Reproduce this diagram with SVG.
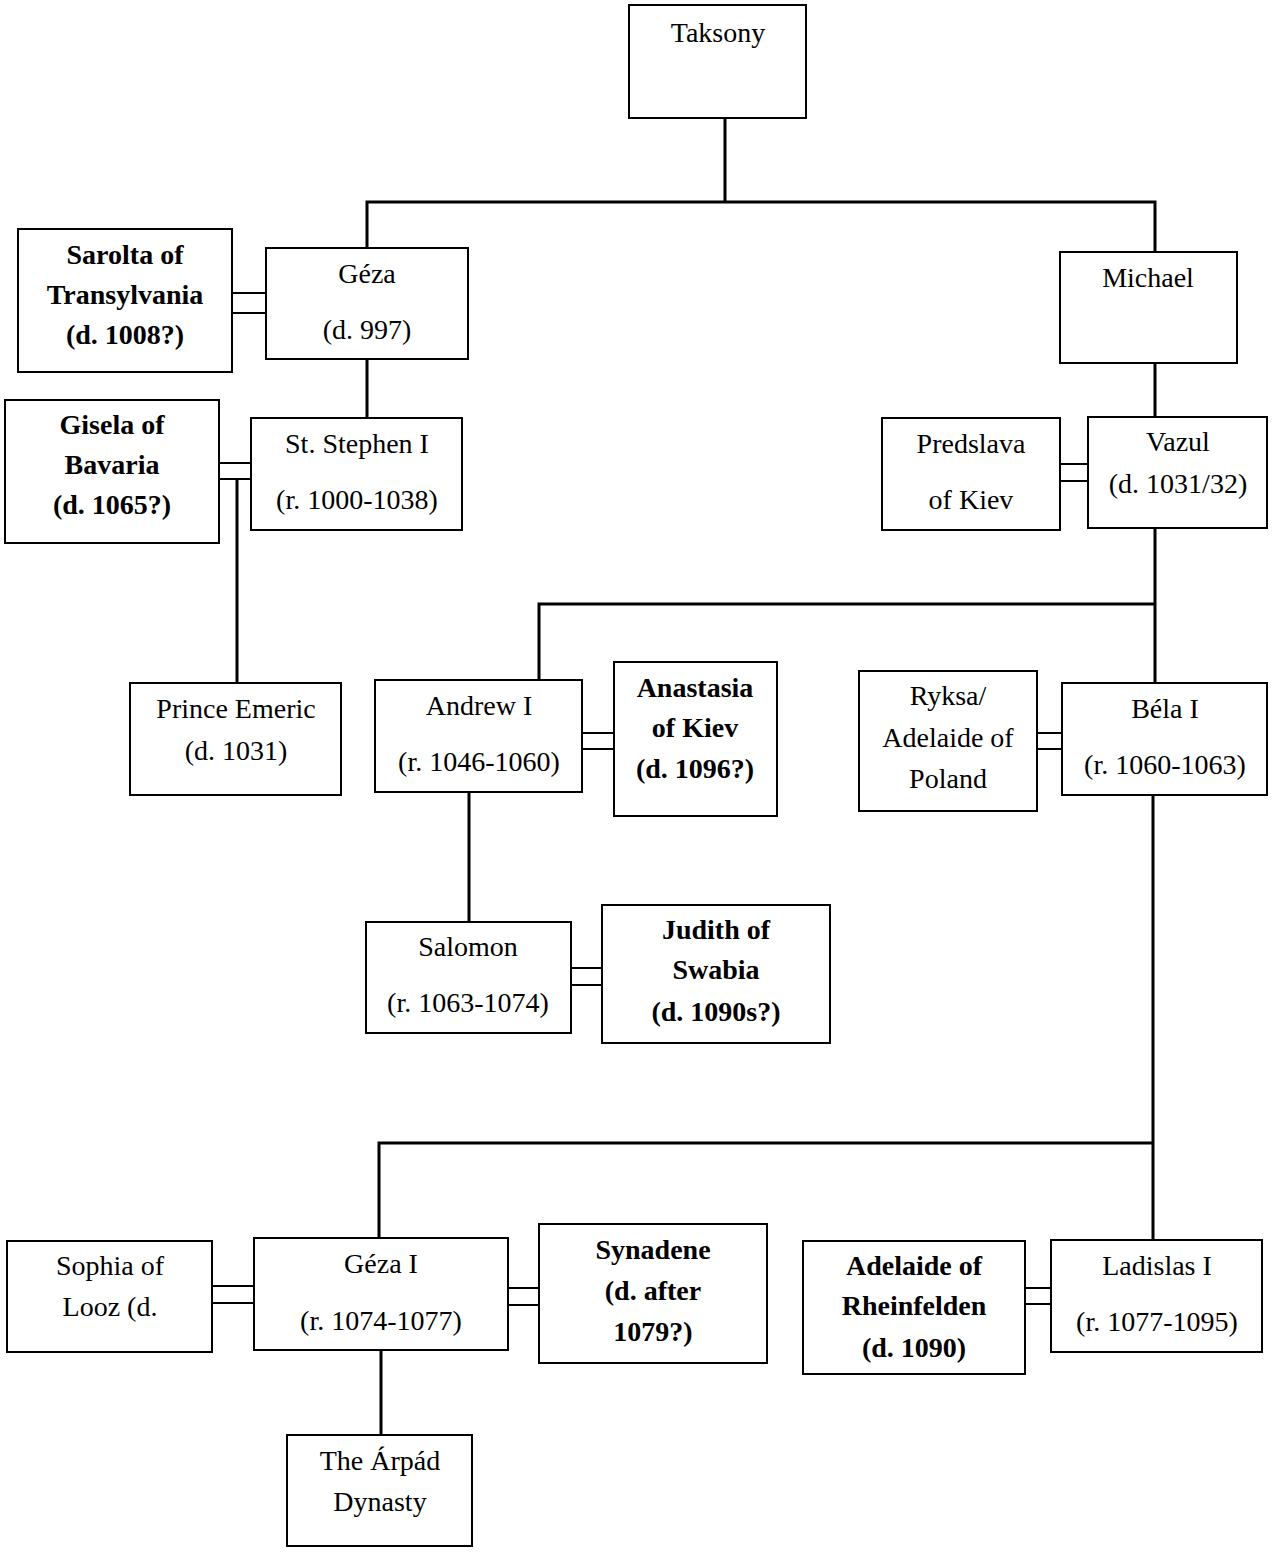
<svg xmlns="http://www.w3.org/2000/svg" width="1276" height="1554" viewBox="0 0 1276 1554">
<style>
rect{fill:#fff;stroke:#000;stroke-width:2}
line,path{stroke:#000;stroke-width:3;fill:none}
.d line{stroke-width:2}
text{font-family:"Liberation Serif",serif;font-size:28px;text-anchor:middle;dominant-baseline:central;fill:#000}
.b{font-weight:bold}
</style>
<rect x="0" y="0" width="1276" height="1554" style="stroke:none"/>
<g id="connectors">
<path d="M725 118V202M367 248V202H1155V252"/>
<path d="M367 359V418M1155 363V418"/>
<path d="M237 479V683"/>
<path d="M1155 528V683M1155 604H539V680"/>
<path d="M469 792V922"/>
<path d="M1153 795V1240M1153 1143H379V1238"/>
<path d="M381 1350V1435"/>
<g class="d">
<line x1="232" y1="293" x2="266" y2="293"/><line x1="232" y1="313" x2="266" y2="313"/>
<line x1="219" y1="463" x2="251" y2="463"/><line x1="219" y1="479" x2="251" y2="479"/>
<line x1="1060" y1="464" x2="1088" y2="464"/><line x1="1060" y1="481" x2="1088" y2="481"/>
<line x1="582" y1="733" x2="614" y2="733"/><line x1="582" y1="749" x2="614" y2="749"/>
<line x1="1037" y1="733" x2="1062" y2="733"/><line x1="1037" y1="749" x2="1062" y2="749"/>
<line x1="571" y1="968" x2="602" y2="968"/><line x1="571" y1="985" x2="602" y2="985"/>
<line x1="212" y1="1286" x2="254" y2="1286"/><line x1="212" y1="1303" x2="254" y2="1303"/>
<line x1="508" y1="1288" x2="539" y2="1288"/><line x1="508" y1="1305" x2="539" y2="1305"/>
<line x1="1025" y1="1288" x2="1051" y2="1288"/><line x1="1025" y1="1304" x2="1051" y2="1304"/>
</g>
</g>
<g id="taksony"><rect x="629" y="5" width="177" height="113"/><text x="718" y="32">Taksony</text></g>
<g id="sarolta"><rect x="18" y="229" width="214" height="143"/><text class="b" x="125" y="254">Sarolta of</text><text class="b" x="125" y="294">Transylvania</text><text class="b" x="125" y="334">(d. 1008?)</text></g>
<g id="geza"><rect x="266" y="248" width="202" height="111"/><text x="367" y="273">Géza</text><text x="367" y="329">(d. 997)</text></g>
<g id="michael"><rect x="1060" y="252" width="177" height="111"/><text x="1148" y="277">Michael</text></g>
<g id="gisela"><rect x="5" y="400" width="214" height="143"/><text class="b" x="112" y="424">Gisela of</text><text class="b" x="112" y="464">Bavaria</text><text class="b" x="112" y="504">(d. 1065?)</text></g>
<g id="stephen"><rect x="251" y="418" width="211" height="112"/><text x="357" y="443">St. Stephen I</text><text x="357" y="499">(r. 1000-1038)</text></g>
<g id="predslava"><rect x="882" y="418" width="178" height="112"/><text x="971" y="443">Predslava</text><text x="971" y="499">of Kiev</text></g>
<g id="vazul"><rect x="1088" y="417" width="179" height="111"/><text x="1178" y="441">Vazul</text><text x="1178" y="483">(d. 1031/32)</text></g>
<g id="emeric"><rect x="130" y="683" width="211" height="112"/><text x="236" y="708">Prince Emeric</text><text x="236" y="750">(d. 1031)</text></g>
<g id="andrew"><rect x="375" y="680" width="207" height="112"/><text x="479" y="705">Andrew I</text><text x="479" y="761">(r. 1046-1060)</text></g>
<g id="anastasia"><rect x="614" y="662" width="163" height="154"/><text class="b" x="695" y="687">Anastasia</text><text class="b" x="695" y="727">of Kiev</text><text class="b" x="695" y="768">(d. 1096?)</text></g>
<g id="ryksa"><rect x="859" y="671" width="178" height="140"/><text x="948" y="695">Ryksa/</text><text x="948" y="737">Adelaide of</text><text x="948" y="778">Poland</text></g>
<g id="bela"><rect x="1062" y="683" width="205" height="112"/><text x="1165" y="708">Béla I</text><text x="1165" y="764">(r. 1060-1063)</text></g>
<g id="salomon"><rect x="366" y="922" width="205" height="111"/><text x="468" y="946">Salomon</text><text x="468" y="1002">(r. 1063-1074)</text></g>
<g id="judith"><rect x="602" y="905" width="228" height="138"/><text class="b" x="716" y="929">Judith of</text><text class="b" x="716" y="969">Swabia</text><text class="b" x="716" y="1011">(d. 1090s?)</text></g>
<g id="sophia"><rect x="7" y="1241" width="205" height="111"/><text x="110" y="1265">Sophia of</text><text x="110" y="1306">Looz (d.</text></g>
<g id="gezai"><rect x="254" y="1238" width="254" height="112"/><text x="381" y="1263">Géza I</text><text x="381" y="1320">(r. 1074-1077)</text></g>
<g id="synadene"><rect x="539" y="1224" width="228" height="139"/><text class="b" x="653" y="1249">Synadene</text><text class="b" x="653" y="1290">(d. after</text><text class="b" x="653" y="1331">1079?)</text></g>
<g id="adelaide"><rect x="803" y="1241" width="222" height="133"/><text class="b" x="914" y="1265">Adelaide of</text><text class="b" x="914" y="1305">Rheinfelden</text><text class="b" x="914" y="1347">(d. 1090)</text></g>
<g id="ladislas"><rect x="1051" y="1240" width="211" height="112"/><text x="1157" y="1265">Ladislas I</text><text x="1157" y="1321">(r. 1077-1095)</text></g>
<g id="arpad"><rect x="287" y="1435" width="185" height="111"/><text x="380" y="1460">The Árpád</text><text x="380" y="1501">Dynasty</text></g>
</svg>
